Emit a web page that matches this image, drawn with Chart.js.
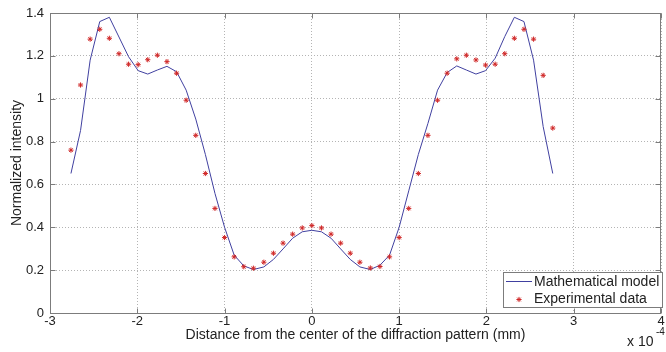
<!DOCTYPE html>
<html lang="en">
<head>
<meta charset="UTF-8">
<title>Diffraction pattern intensity</title>
<script src="https://cdn.jsdelivr.net/npm/chart.js"></script>
<style>
  html, body { margin: 0; padding: 0; background: #fff; }
  #wrap { width: 666px; height: 352px; }
</style>
</head>
<body>
<div id="wrap"><canvas id="diffChart" width="666" height="352"></canvas></div>
<script>
// distance from the centre of the pattern, in units of 1e-4 mm
const positions = [
  -2.76, -2.65, -2.54, -2.43, -2.32, -2.21, -2.10, -1.99, -1.88, -1.77, -1.66, -1.55, -1.44,
  -1.33, -1.22, -1.11, -1.00, -0.89, -0.78, -0.67, -0.55, -0.44, -0.33, -0.22, -0.11,
  0,
  0.11, 0.22, 0.33, 0.44, 0.55, 0.67, 0.78, 0.89, 1.00, 1.11, 1.22, 1.33,
  1.44, 1.55, 1.66, 1.77, 1.88, 1.99, 2.10, 2.21, 2.32, 2.43, 2.54, 2.65, 2.76
];

const modelValues = [
  0.651, 0.852, 1.18, 1.36, 1.38, 1.288, 1.196, 1.131, 1.115, 1.134, 1.151, 1.126, 1.04,
  0.905, 0.74, 0.558, 0.40, 0.27, 0.22, 0.203, 0.215, 0.25, 0.299, 0.349, 0.379,
  0.386,
  0.379, 0.349, 0.299, 0.25, 0.215, 0.203, 0.223, 0.27, 0.40, 0.57, 0.74, 0.885,
  1.04, 1.122, 1.153, 1.134, 1.115, 1.131, 1.189, 1.29, 1.38, 1.36, 1.18, 0.87, 0.651
];

const measuredValues = [
  0.76, 1.064, 1.278, 1.324, 1.282, 1.21, 1.161, 1.159, 1.182, 1.203, 1.173, 1.119, 0.993,
  0.829, 0.651, 0.488, 0.352, 0.262, 0.216, 0.209, 0.237, 0.279, 0.326, 0.368, 0.397,
  0.408,
  0.397, 0.368, 0.326, 0.279, 0.237, 0.21, 0.217, 0.262, 0.352, 0.488, 0.651, 0.829,
  0.993, 1.119, 1.186, 1.203, 1.181, 1.157, 1.161, 1.21, 1.282, 1.324, 1.278, 1.109, 0.863
];

const xTicks = [-3, -2, -1, 0, 1, 2, 3, 4];
const yTicks = [0, 0.2, 0.4, 0.6, 0.8, 1, 1.2, 1.4];

const FONT = '"Liberation Sans", Arial, Helvetica, sans-serif';
const textColor = '#222222';
const frameColor = '#7c7c7c';
const gridColor = '#b4b4b4';
const modelColor = '#4040a0';
const pointColor = '#d02828';

function toPoints(ys) {
    return positions.map((x, i) => ({x: x, y: ys[i]}));
}

function fmt(v) {
    return String(+Number(v).toFixed(1));
}

// box around the axes, inward ticks, legend and the x10^-4 note
const axesDecor = {
    id: 'axesDecor',
    afterDraw(chart) {
        const {ctx, chartArea: a, scales} = chart;
        const L = Math.round(a.left) + 0.5, R = Math.round(a.right) - 0.5;
        const T = Math.round(a.top) + 0.5, B = Math.round(a.bottom) + 0.5;
        ctx.save();
        ctx.strokeStyle = frameColor;
        ctx.lineWidth = 1;
        ctx.strokeRect(L, T, R - L, B - T);

        ctx.beginPath();
        xTicks.forEach(v => {
            const px = Math.round(scales.x.getPixelForValue(v)) + 0.5;
            ctx.moveTo(px, B); ctx.lineTo(px, B - 5);
            ctx.moveTo(px, T); ctx.lineTo(px, T + 5);
        });
        yTicks.forEach(v => {
            const py = Math.round(scales.y.getPixelForValue(v)) + 0.5;
            ctx.moveTo(L, py); ctx.lineTo(L + 5, py);
            ctx.moveTo(R, py); ctx.lineTo(R - 5, py);
        });
        ctx.stroke();

        // exponent note under the x axis
        ctx.fillStyle = textColor;
        ctx.font = '14px ' + FONT;
        ctx.textAlign = 'left';
        ctx.textBaseline = 'middle';
        ctx.fillText('x 10', 627, 342);
        ctx.font = '10px ' + FONT;
        ctx.fillText('-4', 656, 332);

        // legend
        const ds = chart.data.datasets;
        ctx.fillStyle = '#ffffff';
        ctx.fillRect(503.5, 272.5, 159, 35);
        ctx.strokeStyle = frameColor;
        ctx.strokeRect(503.5, 272.5, 159, 35);

        ctx.strokeStyle = ds[0].borderColor;
        ctx.beginPath();
        ctx.moveTo(506, 281.5);
        ctx.lineTo(532, 281.5);
        ctx.stroke();
        ctx.strokeStyle = ds[1].borderColor;
        Chart.helpers.drawPoint(ctx, {
            pointStyle: 'star', radius: ds[1].pointRadius, borderWidth: ds[1].borderWidth, rotation: 0
        }, 519, 299.5);
        ctx.fillStyle = textColor;
        ctx.font = '14px ' + FONT;
        ctx.textBaseline = 'middle';
        ctx.fillText(ds[0].label, 534, 282);
        ctx.fillText(ds[1].label, 534, 299.5);
        ctx.restore();
    }
};

function createChart() {
    const ctx = document.getElementById('diffChart');

    new Chart(ctx, {
        type: 'scatter',
        data: {
            datasets: [{
                label: 'Mathematical model',
                data: toPoints(modelValues),
                showLine: true,
                borderColor: modelColor,
                backgroundColor: modelColor,
                borderWidth: 1,
                pointRadius: 0,
                tension: 0,
                order: 1
            }, {
                label: 'Experimental data',
                data: toPoints(measuredValues),
                showLine: false,
                pointStyle: 'star',
                pointRadius: 2.6,
                borderColor: pointColor,
                backgroundColor: pointColor,
                borderWidth: 1,
                order: 0
            }]
        },
        options: {
            responsive: false,
            animation: false,
            devicePixelRatio: 1,
            layout: { padding: { top: 13, right: 1, left: 0, bottom: 0 } },
            plugins: {
                legend: { display: false },
                tooltip: { enabled: false }
            },
            scales: {
                x: {
                    type: 'linear',
                    min: -3,
                    max: 4,
                    afterBuildTicks: s => { s.ticks = xTicks.map(v => ({value: v})); },
                    afterFit: s => { s.height = 39; s.paddingLeft = 0; s.paddingRight = 0; },
                    ticks: {
                        color: textColor,
                        font: { family: FONT, size: 13 },
                        padding: 1,
                        maxRotation: 0,
                        autoSkip: false,
                        callback: fmt
                    },
                    grid: { color: gridColor, lineWidth: 1, drawTicks: false },
                    border: { display: false, dash: [1, 2] },
                    title: {
                        display: true,
                        text: 'Distance from the center of the diffraction pattern (mm)',
                        color: textColor,
                        font: { family: FONT, size: 14 },
                        padding: { top: 0, bottom: 8 }
                    }
                },
                y: {
                    type: 'linear',
                    min: 0,
                    max: 1.4,
                    afterBuildTicks: s => { s.ticks = yTicks.map(v => ({value: v})); },
                    afterFit: s => { s.width = 50; s.paddingTop = 0; s.paddingBottom = 0; },
                    ticks: {
                        color: textColor,
                        font: { family: FONT, size: 13 },
                        padding: 6,
                        callback: fmt
                    },
                    grid: { color: gridColor, lineWidth: 1, drawTicks: false },
                    border: { display: false, dash: [1, 2] },
                    title: {
                        display: true,
                        text: 'Normalized intensity',
                        color: textColor,
                        font: { family: FONT, size: 14 },
                        padding: { top: 9, bottom: 0 }
                    }
                }
            }
        },
        plugins: [axesDecor]
    });
}

createChart();
</script>
</body>
</html>
